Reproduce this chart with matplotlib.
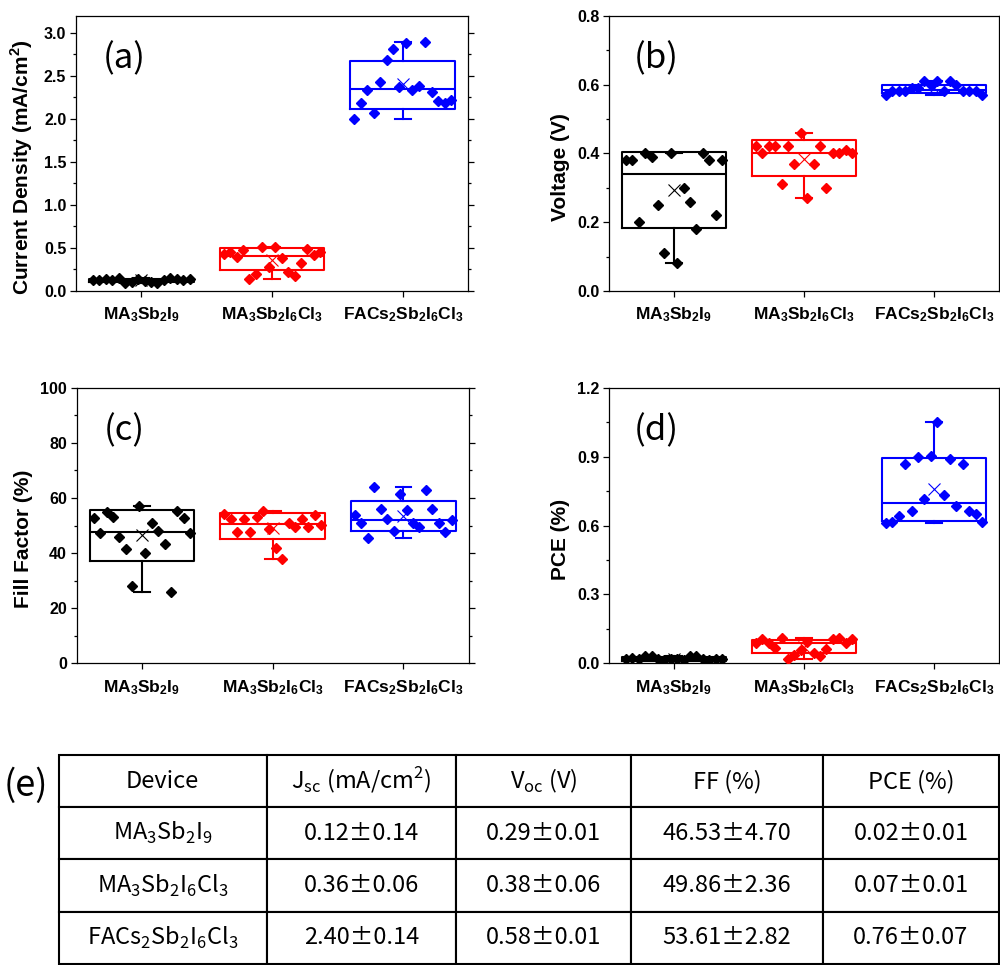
"""Box charts of device parameters (Jsc, Voc, FF, PCE) plus summary table."""

import matplotlib
matplotlib.use("Agg")
import matplotlib.pyplot as plt
import numpy as np
from matplotlib.ticker import MultipleLocator

plt.rcParams["font.family"] = ["Liberation Sans", "DejaVu Sans"]
plt.rcParams["mathtext.fontset"] = "custom"
plt.rcParams["mathtext.rm"] = "Noto Sans CJK KR"
plt.rcParams["mathtext.bf"] = "Liberation Sans:bold"

DEVICES = [
    r"$\mathbf{MA_3Sb_2I_9}$",
    r"$\mathbf{MA_3Sb_2I_6Cl_3}$",
    r"$\mathbf{FACs_2Sb_2I_6Cl_3}$",
]
COLORS = ["#000000", "#FF0000", "#0000FF"]

# individual devices, one list per composition (MA3Sb2I9, MA3Sb2I6Cl3, FACs2Sb2I6Cl3)
JSC = [
    [0.13, 0.13, 0.14, 0.13, 0.15, 0.09, 0.10, 0.14, 0.12, 0.11, 0.09, 0.13, 0.15, 0.14, 0.13, 0.14],
    [0.43, 0.45, 0.40, 0.48, 0.14, 0.20, 0.51, 0.28, 0.51, 0.38, 0.22, 0.17, 0.33, 0.49, 0.42, 0.45],
    [2.00, 2.19, 2.34, 2.07, 2.43, 2.68, 2.81, 2.37, 2.88, 2.34, 2.38, 2.89, 2.31, 2.21, 2.19, 2.22],
]
VOC = [
    [0.38, 0.38, 0.20, 0.40, 0.39, 0.25, 0.11, 0.40, 0.08, 0.30, 0.26, 0.18, 0.40, 0.38, 0.22, 0.38],
    [0.42, 0.40, 0.42, 0.42, 0.31, 0.42, 0.37, 0.46, 0.27, 0.37, 0.42, 0.30, 0.40, 0.40, 0.41, 0.40],
    [0.57, 0.58, 0.58, 0.58, 0.59, 0.59, 0.61, 0.60, 0.61, 0.58, 0.61, 0.60, 0.58, 0.58, 0.58, 0.57],
]
FF = [
    [52.8, 47.3, 55.0, 53.1, 45.9, 41.5, 27.9, 57.0, 39.9, 50.8, 47.9, 43.3, 26.0, 55.1, 52.8, 47.3],
    [54.2, 52.5, 47.8, 52.5, 47.8, 53.0, 55.4, 48.6, 41.7, 37.7, 50.8, 49.3, 52.2, 49.3, 53.9, 50.2],
    [53.7, 51.0, 45.3, 64.1, 55.9, 52.2, 48.0, 61.5, 55.5, 50.8, 49.6, 62.8, 56.0, 50.8, 47.6, 52.0],
]
PCE = [
    [0.020, 0.025, 0.020, 0.030, 0.030, 0.020, 0.015, 0.020, 0.020, 0.015, 0.030, 0.030, 0.020, 0.015, 0.020, 0.020],
    [0.090, 0.104, 0.087, 0.065, 0.109, 0.019, 0.036, 0.058, 0.094, 0.043, 0.032, 0.061, 0.104, 0.109, 0.090, 0.104],
    [0.611, 0.615, 0.643, 0.869, 0.663, 0.900, 0.714, 0.902, 1.049, 0.733, 0.889, 0.686, 0.869, 0.663, 0.649, 0.614],
]

# box statistics as drawn: (whisker low, q1, median, q3, whisker high, mean)
JSC_BOX = [(0.09, 0.105, 0.125, 0.14, 0.15, 0.125), (0.14, 0.24, 0.41, 0.50, 0.51, 0.36), (2.00, 2.11, 2.35, 2.67, 2.89, 2.41)]
VOC_BOX = [(0.08, 0.182, 0.34, 0.404, 0.40, 0.293), (0.27, 0.335, 0.40, 0.438, 0.46, 0.385), (0.57, 0.575, 0.585, 0.60, 0.61, 0.59)]
FF_BOX = [(26.0, 37.2, 47.6, 55.6, 57.0, 46.5), (37.7, 45.1, 50.7, 54.4, 55.1, 49.0), (45.3, 48.0, 52.0, 59.0, 64.1, 53.6)]
PCE_BOX = [(0.01, 0.012, 0.02, 0.028, 0.03, 0.02), (0.02, 0.043, 0.088, 0.102, 0.109, 0.073), (0.611, 0.621, 0.70, 0.892, 1.049, 0.759)]

TABLE_HEADER = [
    "Device",
    r"J$_\mathrm{sc}$ (mA/cm$^\mathrm{2}$)",
    r"V$_\mathrm{oc}$ (V)",
    "FF (%)",
    "PCE (%)",
]
TABLE_DEVICES = [
    r"MA$_\mathrm{3}$Sb$_\mathrm{2}$I$_\mathrm{9}$",
    r"MA$_\mathrm{3}$Sb$_\mathrm{2}$I$_\mathrm{6}$Cl$_\mathrm{3}$",
    r"FACs$_\mathrm{2}$Sb$_\mathrm{2}$I$_\mathrm{6}$Cl$_\mathrm{3}$",
]
TABLE_JSC = ["0.12±0.14", "0.36±0.06", "2.40±0.14"]
TABLE_VOC = ["0.29±0.01", "0.38±0.06", "0.58±0.01"]
TABLE_FF = ["46.53±4.70", "49.86±2.36", "53.61±2.82"]
TABLE_PCE = ["0.02±0.01", "0.07±0.01", "0.76±0.07"]

W, H = 1000, 965
LABEL_FONT = "Noto Sans CJK KR"


def px_axes(fig, left, top, right, bottom):
    return fig.add_axes([left / W, 1 - bottom / H, (right - left) / W, (bottom - top) / H])


def draw_panel(ax, points, boxes, ymax, major, fmt, ylabel, label_x, tag):
    for i, (vals, b, color) in enumerate(zip(points, boxes, COLORS)):
        stats = dict(whislo=b[0], q1=b[1], med=b[2], q3=b[3], whishi=b[4], mean=b[5], fliers=[])
        line = dict(color=color, linewidth=1.5)
        ax.bxp([stats], positions=[i], widths=0.8, capwidths=[0.12], showmeans=True,
               showfliers=False, manage_ticks=False,
               boxprops=line, whiskerprops=line, capprops=line, medianprops=line,
               meanprops=dict(marker="x", markeredgecolor=color, markersize=9, markeredgewidth=0.8))
        offsets = np.linspace(-0.37, 0.37, len(vals))
        ax.plot(i + offsets, vals, "D", color=color, markersize=5, linestyle="none", zorder=3)

    ax.set_xlim(-0.5, 2.5)
    ax.set_ylim(0, ymax)
    ax.set_xticks(range(len(DEVICES)))
    ax.set_xticklabels(DEVICES, fontsize=12.5)
    yticks = np.arange(0, ymax + major / 10, major)
    ax.set_yticks(yticks)
    ax.set_yticklabels([fmt % v for v in yticks], fontweight="bold")
    ax.yaxis.set_minor_locator(MultipleLocator(major / 2))
    ax.tick_params(axis="y", which="both", direction="out", right=True, labelright=False,
                   labelsize=11.5, pad=2.5, width=0.9)
    ax.tick_params(axis="y", which="major", length=4.5)
    ax.tick_params(axis="y", which="minor", length=2.5)
    ax.tick_params(axis="x", which="major", direction="out", length=4.5, pad=6, width=0.9)
    for spine in ax.spines.values():
        spine.set_linewidth(0.9)
    ax.set_ylabel(ylabel, fontsize=15, fontweight="bold")
    ax.yaxis.set_label_coords(label_x, 0.45)
    ax.text(0.122, 0.845, tag, transform=ax.transAxes, ha="center", va="center",
            fontsize=25, family=LABEL_FONT)


def draw_table(fig):
    ax = px_axes(fig, 58.7, 755, 999, 964)
    ax.axis("off")
    rows = list(zip(TABLE_DEVICES, TABLE_JSC, TABLE_VOC, TABLE_FF, TABLE_PCE))
    tbl = ax.table(cellText=rows, colLabels=TABLE_HEADER, cellLoc="center",
                   colWidths=[208, 189, 175, 192, 176], bbox=[0, 0, 1, 1])
    tbl.auto_set_font_size(False)
    for cell in tbl.get_celld().values():
        cell.set_linewidth(1.5)
        cell.get_text().set_fontsize(17)
        cell.get_text().set_fontfamily(LABEL_FONT)
    fig.text(26 / W, 1 - 786 / H, "(e)", ha="center", va="center", fontsize=26, family=LABEL_FONT)


def main():
    fig = plt.figure(figsize=(W / 100, H / 100), dpi=100)
    ax_a = px_axes(fig, 76, 15.7, 468, 291)
    ax_b = px_axes(fig, 609, 15.7, 999, 291)
    ax_c = px_axes(fig, 76.7, 387.7, 468.7, 663.3)
    ax_d = px_axes(fig, 609, 387.7, 999, 663.3)

    draw_panel(ax_a, JSC, JSC_BOX, 3.2, 0.5, "%.1f", r"Current Density (mA/cm$^\mathbf{2}$)", -0.105, "(a)")
    draw_panel(ax_b, VOC, VOC_BOX, 0.8, 0.2, "%.1f", "Voltage (V)", -0.10, "(b)")
    draw_panel(ax_c, FF, FF_BOX, 100, 20, "%d", "Fill Factor (%)", -0.111, "(c)")
    draw_panel(ax_d, PCE, PCE_BOX, 1.2, 0.3, "%.1f", "PCE (%)", -0.10, "(d)")

    draw_table(fig)
    fig.savefig("out.png", dpi=100)
    plt.close(fig)


if __name__ == "__main__":
    main()
